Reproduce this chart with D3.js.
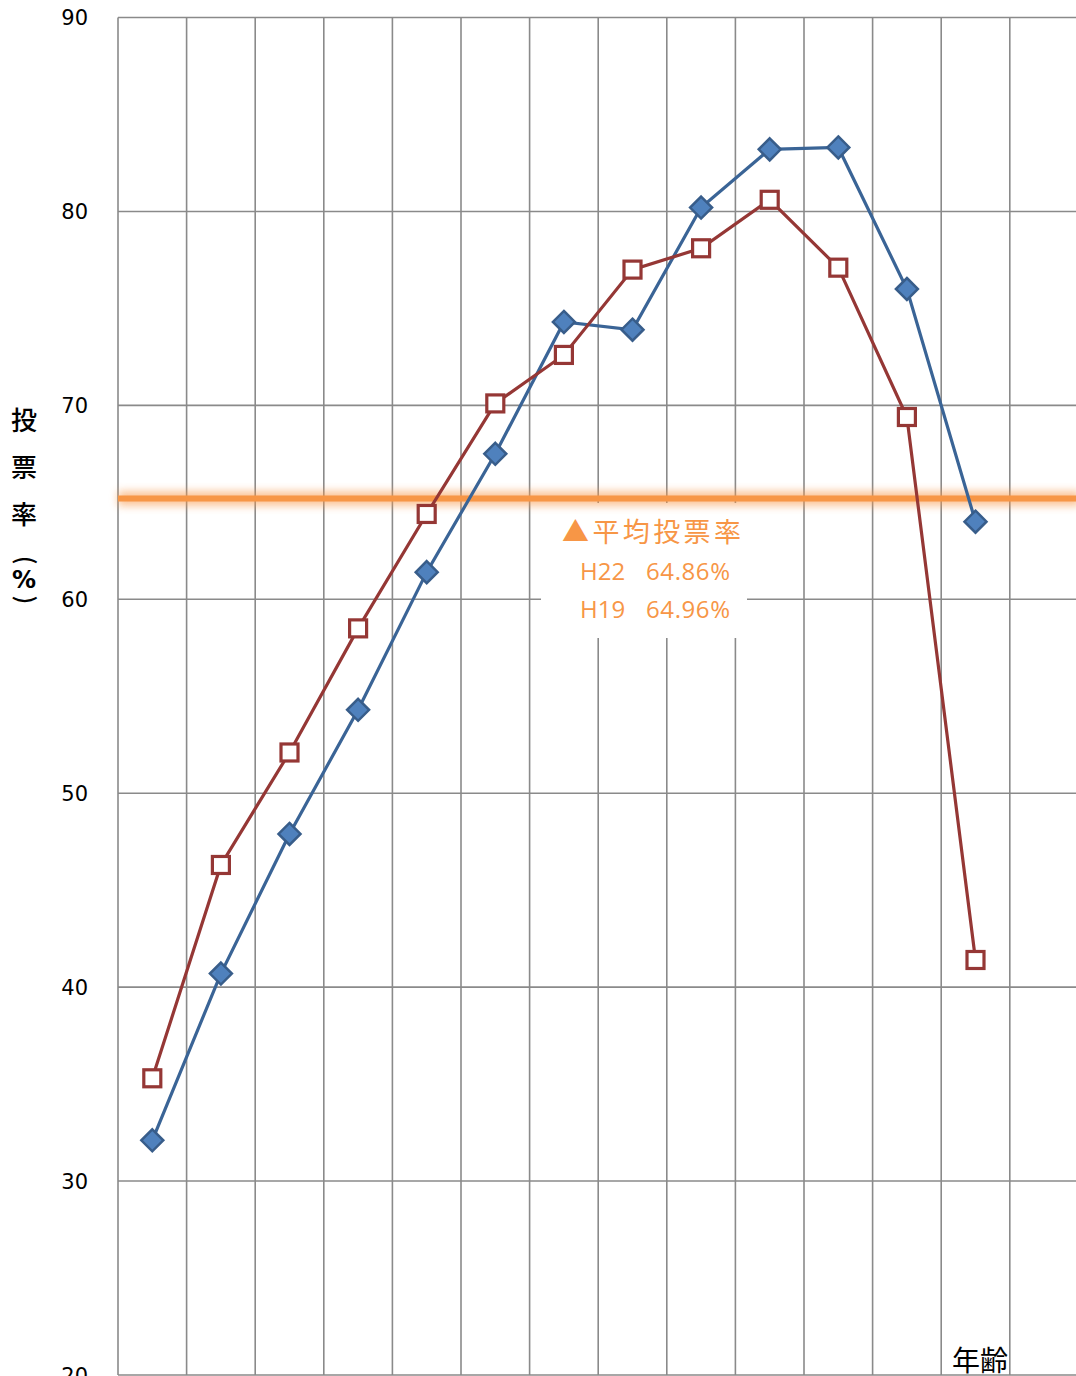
<!DOCTYPE html>
<html>
<head>
<meta charset="utf-8">
<script src="https://cdn.jsdelivr.net/npm/d3@7"></script>
<style>
  body { margin: 0; background: #fff; }
  svg { display: block; }
</style>
</head>
<body>
<svg width="1076" height="1376"></svg>
<script>
// age groups (x bands); last band has no data
var ageGroups = ['20-24', '25-29', '30-34', '35-39', '40-44', '45-49', '50-54',
                 '55-59', '60-64', '65-69', '70-74', '75-79', '80+', ''];
// turnout by age, H22 (blue diamonds) and H19 (red squares)
var h22Values = [32.1, 40.7, 47.9, 54.3, 61.4, 67.5, 74.3, 73.9, 80.2, 83.2, 83.3, 76.0, 64.0];
var h19Values = [35.3, 46.3, 52.1, 58.5, 64.4, 70.1, 72.6, 77.0, 78.1, 80.6, 77.1, 69.4, 41.4];
var yTicks = [20, 30, 40, 50, 60, 70, 80, 90];
// average turnout marker line and its labels
var avgLineValue = 65.2;
var avgTitle = '▲平均投票率';
var avgRows = [['H22', '64.86%'], ['H19', '64.96%']];
var yTitleChars = ['投', '票', '率'];
var xTitle = '年齢';

var svg = d3.select('svg');
var left = 118, band = 68.6;

var xScale = d3.scaleBand().domain(ageGroups)
    .range([left, left + band * ageGroups.length]).padding(0);
var yScale = d3.scaleLinear().domain([20, 90]).range([1375, 17.5]);

var gridColor = '#8a8a8a';

// glow filter for average line (user space, the line has no height)
var defs = svg.append('defs');
defs.append('filter').attr('id', 'glow')
    .attr('filterUnits', 'userSpaceOnUse')
    .attr('x', 0).attr('y', 440).attr('width', 1100).attr('height', 120)
  .append('feGaussianBlur').attr('stdDeviation', 4);

var grid = svg.append('g');
// horizontal gridlines
grid.selectAll('line.h')
  .data(yTicks)
  .enter().append('line')
  .attr('class', 'h')
  .attr('x1', left).attr('x2', 1080)
  .attr('y1', function(d){ return yScale(d); })
  .attr('y2', function(d){ return yScale(d); })
  .attr('stroke', gridColor).attr('stroke-width', 1.6);

// vertical gridlines at band edges
var edges = ageGroups.map(function(d){ return xScale(d); });
edges.push(xScale.range()[1]);
grid.selectAll('line.v')
  .data(edges)
  .enter().append('line')
  .attr('class', 'v')
  .attr('x1', function(d){ return d; }).attr('x2', function(d){ return d; })
  .attr('y1', yScale(90)).attr('y2', yScale(20))
  .attr('stroke', gridColor).attr('stroke-width', 1.6);

// y tick labels
svg.append('g').selectAll('text')
  .data(yTicks)
  .enter().append('text')
  .attr('x', 88)
  .attr('y', function(d){ return yScale(d); })
  .attr('dy', '0.36em')
  .attr('text-anchor', 'end')
  .style('font-family', 'DejaVu Sans, sans-serif')
  .style('font-size', '21px')
  .attr('fill', '#000')
  .text(function(d){ return d; });

// white box behind average labels
svg.append('rect')
  .attr('x', 541).attr('y', 503).attr('width', 206).attr('height', 135)
  .attr('fill', '#fff');

// average line: glow + core
var yAvg = yScale(avgLineValue);
svg.append('line')
  .attr('x1', left).attr('x2', 1080).attr('y1', yAvg).attr('y2', yAvg)
  .attr('stroke', '#F79646').attr('stroke-width', 14).attr('opacity', 0.6)
  .attr('filter', 'url(#glow)');
svg.append('line')
  .attr('x1', left).attr('x2', 1080).attr('y1', yAvg).attr('y2', yAvg)
  .attr('stroke', '#F79646').attr('stroke-width', 6);

function cx(i){ return xScale(ageGroups[i]) + xScale.bandwidth() / 2; }

var line = d3.line()
    .x(function(d, i){ return cx(i); })
    .y(function(d){ return yScale(d); });

// H22 series
svg.append('path')
  .datum(h22Values)
  .attr('d', line)
  .attr('fill', 'none')
  .attr('stroke', '#3A6496')
  .attr('stroke-width', 3.2);

svg.append('g').selectAll('path')
  .data(h22Values)
  .enter().append('path')
  .attr('d', 'M0,-11L11,0L0,11L-11,0Z')
  .attr('transform', function(d, i){ return 'translate(' + cx(i) + ',' + yScale(d) + ')'; })
  .attr('fill', '#4F81BD')
  .attr('stroke', '#385D8A')
  .attr('stroke-width', 2.5);

// H19 series
svg.append('path')
  .datum(h19Values)
  .attr('d', line)
  .attr('fill', 'none')
  .attr('stroke', '#953735')
  .attr('stroke-width', 3.2);

svg.append('g').selectAll('rect')
  .data(h19Values)
  .enter().append('rect')
  .attr('x', function(d, i){ return cx(i) - 8.5; })
  .attr('y', function(d){ return yScale(d) - 8.5; })
  .attr('width', 17).attr('height', 17)
  .attr('fill', '#fff')
  .attr('stroke', '#953735')
  .attr('stroke-width', 3.2);

// average label text
var orange = '#F79646';
svg.append('text')
  .attr('x', 562).attr('y', 542)
  .attr('fill', orange)
  .style('font-family', 'Noto Sans CJK JP, sans-serif')
  .style('font-size', '27px')
  .style('letter-spacing', '3.4px')
  .text(avgTitle);

var rowG = svg.append('g').selectAll('g')
  .data(avgRows)
  .enter().append('g')
  .attr('transform', function(d, i){ return 'translate(0,' + (580 + i * 37.5) + ')'; });
rowG.append('text')
  .attr('x', 580)
  .attr('fill', orange)
  .style('font-family', 'Open Sans, sans-serif')
  .style('font-size', '24px')
  .text(function(d){ return d[0]; });
rowG.append('text')
  .attr('x', 646)
  .attr('fill', orange)
  .style('font-family', 'Open Sans, sans-serif')
  .style('font-size', '24px')
  .attr('textLength', 84)
  .text(function(d){ return d[1]; });

// y-axis title (vertical)
var yTitle = svg.append('g')
  .style('font-family', 'Noto Sans CJK JP, sans-serif')
  .style('font-size', '26px')
  .style('font-weight', 500)
  .attr('fill', '#000')
  .attr('text-anchor', 'middle');
yTitle.selectAll('text.c')
  .data(yTitleChars)
  .enter().append('text')
  .attr('class', 'c')
  .attr('x', 24)
  .attr('y', function(d, i){ return 421 + i * 47; })
  .attr('dy', '0.35em')
  .text(function(d){ return d; });
yTitle.append('text')
  .attr('transform', 'translate(25,560) rotate(90)')
  .attr('dy', '0.35em')
  .style('font-size', '24px')
  .text('(');
yTitle.append('text')
  .attr('x', 24).attr('y', 580)
  .attr('dy', '0.35em')
  .style('font-size', '24px')
  .style('font-family', 'DejaVu Sans, sans-serif')
  .style('font-weight', 'bold')
  .text('%');
yTitle.append('text')
  .attr('transform', 'translate(25,600) rotate(90)')
  .attr('dy', '0.35em')
  .style('font-size', '24px')
  .text(')');

// x-axis title
svg.append('text')
  .attr('x', 952).attr('y', 1371)
  .attr('fill', '#000')
  .style('font-family', 'Noto Sans CJK JP, sans-serif')
  .style('font-size', '28px')
  .text(xTitle);
</script>
</body>
</html>
